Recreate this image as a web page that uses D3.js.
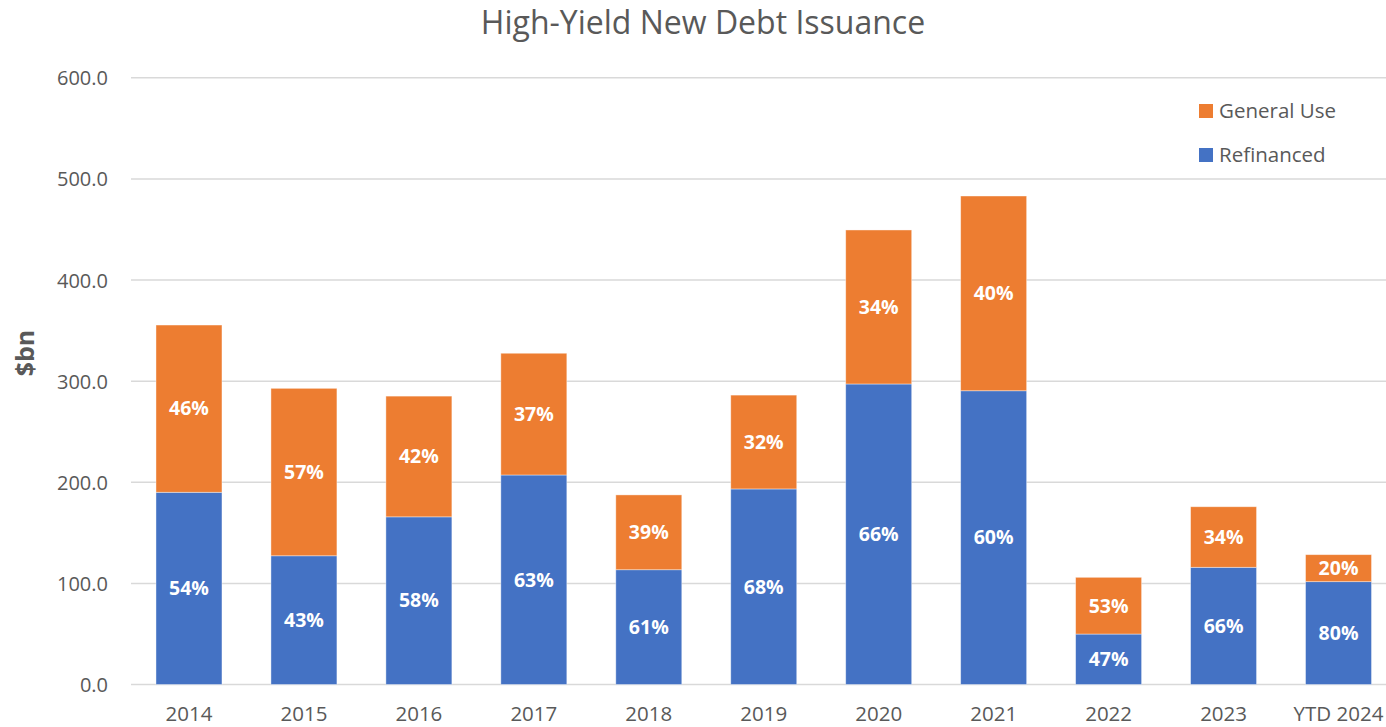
<!DOCTYPE html>
<html><head><meta charset="utf-8">
<script src="https://cdn.jsdelivr.net/npm/d3@7/dist/d3.min.js"></script>
<style>
html,body{margin:0;padding:0;background:#fff;}
svg{display:block;font-family:"Open Sans",sans-serif;}
</style></head>
<body>
<svg id="chart" width="1386" height="727"></svg>
<script>
const categories = ["2014","2015","2016","2017","2018","2019","2020","2021","2022","2023","YTD 2024"];
const refinanced = [190.1,127.3,165.8,207.2,113.5,193.4,297.2,290.5,49.9,115.9,101.7];
const totals = [355.5,292.9,285.2,327.6,187.5,286.2,449.5,483.1,106.0,175.8,128.4];
const generalUse = totals.map((t,i)=>+(t-refinanced[i]).toFixed(1));
const refiLabels = ["54%","43%","58%","63%","61%","68%","66%","60%","47%","66%","80%"];
const genLabels = ["46%","57%","42%","37%","39%","32%","34%","40%","53%","34%","20%"];
const yTicks = [0,100,200,300,400,500,600];

const svg = d3.select("#chart");
const BLUE="#4472C4", ORANGE="#ED7D31", GREY="#595959";

const x = d3.scaleBand().domain(categories).range([131.5,1396]).paddingInner(0.426).paddingOuter(0.213);
const y = d3.scaleLinear().domain([0,600]).range([684.5,77.8]);

// gridlines
svg.append("g").selectAll("line").data(yTicks).join("line")
  .attr("x1",131).attr("x2",1386)
  .attr("y1",d=>y(d)).attr("y2",d=>y(d))
  .attr("stroke","#d9d9d9").attr("stroke-width",1.5);

// y axis labels
const yAxis = d3.axisLeft(y).tickValues(yTicks).tickFormat(d3.format(".1f")).tickSize(0).tickPadding(0);
const ya = svg.append("g").attr("transform","translate(108,0)").call(yAxis);
ya.select(".domain").remove();
ya.selectAll("text").attr("fill",GREY).style("font-size","20px").style("font-family","'Open Sans',sans-serif").attr("dy","0.35em");

// x axis labels
const xAxis = d3.axisBottom(x).tickSize(0).tickPadding(0);
const xa = svg.append("g").attr("transform","translate(0,706)").call(xAxis);
xa.select(".domain").remove();
xa.selectAll("text").attr("fill",GREY).style("font-size","20.5px").style("font-family","'Open Sans',sans-serif");

const data = categories.map((c,i)=>({c, r:refinanced[i], g:generalUse[i], rl:refiLabels[i], gl:genLabels[i]}));

// bars
const bars = svg.append("g");
bars.selectAll("rect.refi").data(data).join("rect").attr("class","refi")
  .attr("x",d=>x(d.c)).attr("width",x.bandwidth())
  .attr("y",d=>y(d.r)).attr("height",d=>y(0)-y(d.r))
  .attr("fill",BLUE).attr("stroke","#ffffff").attr("stroke-opacity",0.5).attr("stroke-width",0.8);
bars.selectAll("rect.gen").data(data).join("rect").attr("class","gen")
  .attr("x",d=>x(d.c)).attr("width",x.bandwidth())
  .attr("y",d=>y(d.r+d.g)).attr("height",d=>y(d.r)-y(d.r+d.g))
  .attr("fill",ORANGE).attr("stroke","#ffffff").attr("stroke-opacity",0.5).attr("stroke-width",0.8);

// labels
const lab = svg.append("g").attr("text-anchor","middle").attr("fill","#fff")
  .style("font-weight","700").style("font-size","19.5px");
lab.selectAll("text.rl").data(data).join("text").attr("class","rl")
  .attr("x",d=>x(d.c)+x.bandwidth()/2).attr("y",d=>y(d.r/2)).attr("dy","0.35em").text(d=>d.rl);
lab.selectAll("text.gl").data(data).join("text").attr("class","gl")
  .attr("x",d=>x(d.c)+x.bandwidth()/2).attr("y",d=>y(d.r+d.g/2)).attr("dy","0.35em").text(d=>d.gl);

// title
svg.append("text").attr("x",703).attr("y",34).attr("text-anchor","middle")
  .attr("fill",GREY).style("font-size","32px").text("High-Yield New Debt Issuance");

// y title
svg.append("text").attr("transform","translate(34,353) rotate(-90)").attr("text-anchor","middle")
  .attr("fill",GREY).style("font-size","25px").style("font-weight","700").text("$bn");

// legend
const legend = [{name:"General Use",color:ORANGE,y:111},{name:"Refinanced",color:BLUE,y:155}];
const lg = svg.append("g");
lg.selectAll("rect").data(legend).join("rect")
  .attr("x",1199).attr("y",d=>d.y-7).attr("width",14).attr("height",14).attr("fill",d=>d.color);
lg.selectAll("text").data(legend).join("text")
  .attr("x",1219).attr("y",d=>d.y).attr("dy","0.35em").attr("fill",GREY)
  .style("font-size","20.5px").text(d=>d.name);
</script>
</body></html>
